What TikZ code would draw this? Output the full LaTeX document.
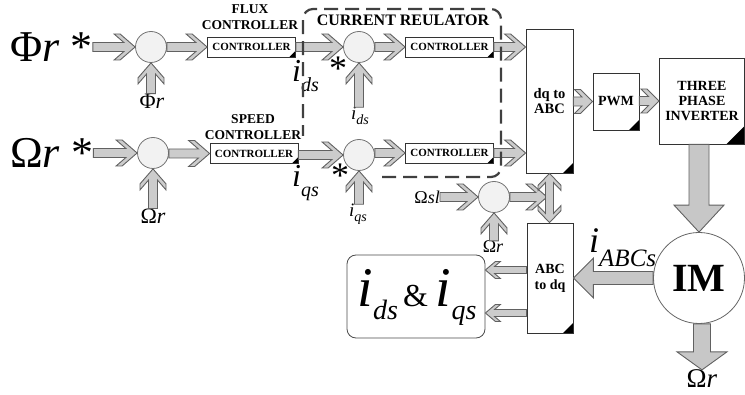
\documentclass[tikz,border=0pt]{standalone}
\usepackage{fontspec}
\setmainfont{Liberation Serif}
\usetikzlibrary{calc}

\def\arS{4.5}\def\arH{13}\def\arL{15}\def\arT{6}\def\arI{11.2}
\newcommand\chR[2]{\path[chev] let \p1=(#1), \p2=(#2) in (\x1,\y2+\arS) -- (\x2-\arI,\y2+\arS) -- (\x2-\arL-\arT,\y2+\arH) -- (\x2-\arL,\y2+\arH) -- (\x2,\y2) -- (\x2-\arL,\y2-\arH) -- (\x2-\arL-\arT,\y2-\arH) -- (\x2-\arI,\y2-\arS) -- (\x1,\y2-\arS) -- cycle;}
\newcommand\chL[2]{\path[chev] let \p1=(#1), \p2=(#2) in (\x1,\y2+\arS) -- (\x2+\arI,\y2+\arS) -- (\x2+\arL+\arT,\y2+\arH) -- (\x2+\arL,\y2+\arH) -- (\x2,\y2) -- (\x2+\arL,\y2-\arH) -- (\x2+\arL+\arT,\y2-\arH) -- (\x2+\arI,\y2-\arS) -- (\x1,\y2-\arS) -- cycle;}
\newcommand\chU[2]{\path[chev] let \p1=(#1), \p2=(#2) in (\x2+\arS,\y1) -- (\x2+\arS,\y2-\arI) -- (\x2+\arH,\y2-\arL-\arT) -- (\x2+\arH,\y2-\arL) -- (\x2,\y2) -- (\x2-\arH,\y2-\arL) -- (\x2-\arH,\y2-\arL-\arT) -- (\x2-\arS,\y2-\arI) -- (\x2-\arS,\y1) -- cycle;}
\newcommand\chUD[2]{\path[chev] let \p1=(#1), \p2=(#2) in (\x1,\y1) -- (\x1+\arH,\y1-\arL) -- (\x1+\arH,\y1-\arL-\arT) -- (\x1+\arS,\y1-\arI) -- (\x1+\arS,\y2+\arI) -- (\x1+\arH,\y2+\arL+\arT) -- (\x1+\arH,\y2+\arL) -- (\x1,\y2) -- (\x1-\arH,\y2+\arL) -- (\x1-\arH,\y2+\arL+\arT) -- (\x1-\arS,\y2+\arI) -- (\x1-\arS,\y1-\arI) -- (\x1-\arH,\y1-\arL-\arT) -- (\x1-\arH,\y1-\arL) -- cycle;}
\newcommand\bigD[5]{\path[bigarr] let \p1=(#1), \p2=(#2) in (\x2-#3,\y1) -- (\x2-#3,\y2+#5) -- (\x2-#4,\y2+#5) -- (\x2,\y2) -- (\x2+#4,\y2+#5) -- (\x2+#3,\y2+#5) -- (\x2+#3,\y1) -- cycle;}
\newcommand\bigL[5]{\path[bigarr] let \p1=(#1), \p2=(#2) in (\x1,\y2+#3) -- (\x2+#5,\y2+#3) -- (\x2+#5,\y2+#4) -- (\x2,\y2) -- (\x2+#5,\y2-#4) -- (\x2+#5,\y2-#3) -- (\x1,\y2-#3) -- cycle;}
\newcommand\myisub[4]{{\fontsize{#1}{#1}\selectfont\itshape i}\raisebox{-#4}{\fontsize{#2}{#2}\selectfont\itshape #3}}
\newcommand\fs[1]{\fontsize{#1}{#1}\selectfont}

\tikzset{
  chev/.style={fill=black!20, draw=black!62, line width=0.9pt, line join=miter},
  bigarr/.style={fill=black!22, draw=black!62, line width=0.9pt},
  sumj/.style={circle, draw=black!55, fill=black!5, minimum size=31pt, inner sep=0pt, line width=0.8pt},
  curl/.style={path picture={\fill[black] (path picture bounding box.south east) -- ++(-#1,0) -- ++(#1,-#1) -- cycle;}},
  ctrlbox/.style={draw=black!80, fill=white, minimum width=88pt, minimum height=20pt, inner sep=0pt, line width=0.8pt, font=\fs{11}\bfseries, curl=6},
  blockbox/.style={draw=black!80, fill=white, inner sep=0pt, line width=0.8pt, align=center},
  lbl/.style={inner sep=0pt},
  dashbox/.style={draw=black!75, line width=2.2pt, dash pattern=on 14pt off 7pt, rounded corners=10pt},
}

\begin{document}
\begin{tikzpicture}[x=1pt, y=-1pt]
\useasboundingbox (0,0) rectangle (745,395);

% big inputs
\node[lbl, anchor=base west, font=\fs{44}] (phis) at (10,62) {Φ\textit{r} *};
\node[lbl, anchor=base west, font=\fs{44}] (omgs) at (10,168) {Ω\textit{r} *};

% summing junctions
\node[sumj] (sum1) at (151,47) {};
\node[sumj] (sum2) at (359,47) {};
\node[sumj] (sum3) at (153,153) {};
\node[sumj] (sum4) at (359,155) {};
\node[sumj] (sum5) at (494,197) {};

% controllers
\node[ctrlbox] (ctrl1) at (251.5,47) {CONTROLLER};
\node[ctrlbox] (ctrl2) at (254,153.5) {CONTROLLER};
\node[ctrlbox] (ctrl3) at (449.5,47) {CONTROLLER};
\node[ctrlbox] (ctrl4) at (449.5,153) {CONTROLLER};

\node[lbl, align=center, font=\fs{13.5}\bfseries] (fluxl) at (250,17) {FLUX\\[2pt]CONTROLLER};
\node[lbl, align=center, font=\fs{13.5}\bfseries] (speedl) at (253,127) {SPEED\\[2pt]CONTROLLER};
\node[lbl, font=\fs{16}\bfseries] (curl) at (403,20) {CURRENT REULATOR};

% blocks
\node[blockbox, minimum width=47pt, minimum height=144pt, curl=10, font=\fs{14.5}\bfseries] (dq) at (549.5,101) {dq to\\[1pt]ABC};
\node[blockbox, minimum width=46pt, minimum height=57pt, curl=10, font=\fs{14}\bfseries] (pwm) at (616,101.5) {PWM};
\node[blockbox, minimum width=85pt, minimum height=86pt, curl=18, font=\fs{14}\bfseries] (inv) at (702,101) {THREE\\[1pt]PHASE\\[1pt]INVERTER};
\node[blockbox, minimum width=46pt, minimum height=110pt, curl=10, font=\fs{14}\bfseries] (abc) at (550,278) {ABC\\[2pt]to dq};
\node[blockbox, minimum width=138pt, minimum height=83pt, rounded corners=9pt, draw=black!70] (idq) at (416,296.5) {};
\node[lbl, anchor=base] (idqt) at (417,307) {\myisub{56}{28}{ds}{13pt}\hspace{5pt}{\fs{32}\&}\hspace{8pt}\myisub{56}{28}{qs}{13pt}};

% feedback labels
\node[lbl, font=\fs{22}] (phifb) at (152,101) {Φ\textit{r}};
\node[lbl, font=\fs{22}] (omgfb) at (153,216) {Ω\textit{r}};
\node[lbl, anchor=base west] (idsfb) at (351,120) {\myisub{19}{14}{ds}{5pt}};
\node[lbl, anchor=base west] (iqsfb) at (349,217) {\myisub{19}{14}{qs}{5pt}};
\node[lbl, anchor=base west] (idsl) at (292,82) {\myisub{32}{20}{ds}{10pt}};
\node[lbl, anchor=base west] (iqsl) at (292,187) {\myisub{32}{20}{qs}{10pt}};
\node[lbl, anchor=base, font=\fs{36}] (star1) at (338,81) {*};
\node[lbl, anchor=base, font=\fs{36}] (star2) at (340,188) {*};
\node[lbl, anchor=east, font=\fs{18}] (osl) at (440,197) {Ω\textit{sl}};
\node[lbl, font=\fs{18}] (omgfb2) at (493,247) {Ω\textit{r}};
\node[lbl, font=\fs{27}] (omgbot) at (702,379) {Ω\textit{r}};
\node[lbl, anchor=base west] (iabc) at (589,253) {\myisub{36}{25}{ABCs}{14pt}};
\coordinate (slt) at (547,197);

% row 1 arrows
\chR{phis.east}{sum1.west}
\chR{sum1.east}{ctrl1.west}
\chR{ctrl1.east}{sum2.west}
\chR{sum2.east}{ctrl3.west}
\chR{ctrl3.east}{dq.west|-ctrl3.east}
% row 2 arrows
\chR{omgs.east}{sum3.west}
\chR{sum3.east}{ctrl2.west}
\chR{ctrl2.east}{sum4.west}
\chR{sum4.east}{ctrl4.west}
\chR{ctrl4.east}{dq.west|-ctrl4.east}
% feedbacks
\chU{phifb.north}{sum1.south}
\chU{omgfb.north}{sum3.south}
\chU{idsfb.north}{sum2.south}
\chU{iqsfb.north}{sum4.south}
\chU{omgfb2.north}{sum5.south}
% slip
\chR{osl.east}{sum5.west}
\chR{sum5.east}{slt}
{\def\arS{4}\def\arH{11.5}\def\arL{12}\def\arT{5}\def\arI{9.2}
 \chUD{dq.south}{abc.north}}
% to PWM, inverter
{\def\arS{4.5}\def\arH{12}\def\arL{12}\def\arT{6}\def\arI{10.5}
 \chR{dq.east}{pwm.west}
 \chR{pwm.east}{inv.west}}
% ABC to dq outputs
{\def\arS{3.5}\def\arH{8.5}\def\arL{10}\def\arT{5}\def\arI{9.1}
 \chL{abc.west}{$(idq.east)+(0,-26.5)$}
 \chL{abc.west}{$(idq.east)+(0,16.5)$}}

% motor
\node[circle, draw=black!60, fill=white, minimum size=91pt, inner sep=0pt, line width=0.8pt, font=\fs{40}\bfseries] (im) at (699,278) {IM};
\bigD{inv.south}{im.north}{10}{25}{27}
\bigL{im.west}{abc.east}{6.5}{20}{20}
\bigD{im.south}{omgbot.north}{8.5}{25}{18}

% current regulator dashed frame
\draw[dashbox] (382,177) -| (501,9) -| (303,136);
\end{tikzpicture}
\end{document}
